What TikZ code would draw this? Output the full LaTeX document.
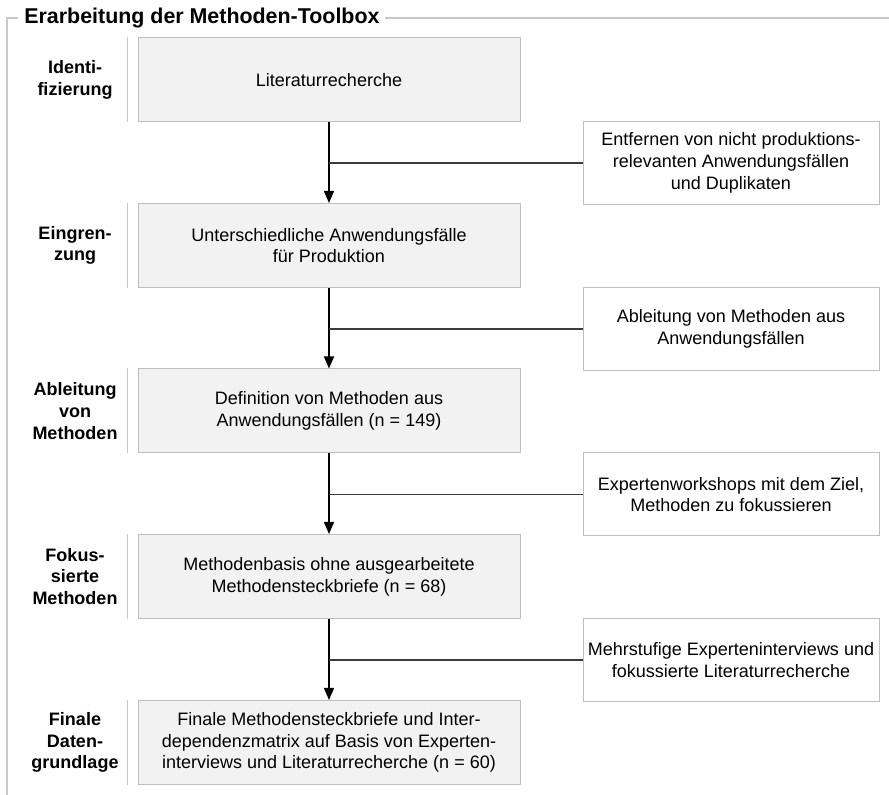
\documentclass[tikz,border=0pt]{standalone}
\usepackage{fontspec}
\setmainfont{Liberation Sans}
\usetikzlibrary{arrows.meta,positioning}
\definecolor{boxfill}{RGB}{242,242,242}
\definecolor{boxline}{RGB}{190,190,190}
\definecolor{frameline}{RGB}{200,200,200}
\definecolor{feedline}{RGB}{60,60,60}
\begin{document}
\begin{tikzpicture}[x=0.5pt,y=-0.5pt,
    every node/.style={font=\fontsize{9}{10.85}\selectfont, align=center, inner sep=0pt},
    stepbox/.style={draw=boxline,fill=boxfill,line width=0.5pt,minimum width=191pt,minimum height=42pt},
    sidebox/.style={draw=boxline,fill=white,line width=0.5pt,minimum width=148pt,minimum height=41.5pt},
    phase/.style={font=\fontsize{9}{10.85}\selectfont\bfseries},
    flow/.style={-{Triangle[length=6pt,width=5pt]},line width=0.75pt},
    feed/.style={draw=feedline,line width=0.6pt}]
    \useasboundingbox (0,0) rectangle (889,795);
    % frame with title
    \draw[frameline,line width=1pt] (7,795) -- (7,18) -- (889,18);
    \node[fill=white,inner xsep=3pt,anchor=west,font=\fontsize{10.7}{12}\selectfont\bfseries] (title) at (18,18) {Erarbeitung der Methoden-Toolbox};
    % main steps
    \node[stepbox] (s1) at (329,80) {Literaturrecherche};
    \node[stepbox] (s2) at (329,245.5) {Unterschiedliche Anwendungsfälle\\für Produktion};
    \node[stepbox] (s3) at (329,411) {Definition von Methoden aus\\Anwendungsfällen (n = 149)};
    \node[stepbox] (s4) at (329,576.5) {Methodenbasis ohne ausgearbeitete\\Methodensteckbriefe (n = 68)};
    \node[stepbox] (s5) at (329,742.5) {Finale Methodensteckbriefe und Inter-\\dependenzmatrix auf Basis von Experten-\\interviews und Literaturrecherche (n = 60)};
    % phase labels
    \node[phase] (p1) at (75,80) {Identi-\\fizierung};
    \node[phase] (p2) at (75,245.5) {Eingren-\\zung};
    \node[phase] (p3) at (75,411) {Ableitung\\von\\Methoden};
    \node[phase] (p4) at (75,576.5) {Fokus-\\sierte\\Methoden};
    \node[phase] (p5) at (75,742.5) {Finale\\Daten-\\grundlage};
    \foreach \i in {1,...,5}
        \draw[frameline,line width=0.6pt] ([xshift=-5pt]s\i.north west) -- ([xshift=-5pt]s\i.south west);
    % side steps
    \node[sidebox] (f1) at (731,163) {Entfernen von nicht produktions-\\relevanten Anwendungsfällen\\und Duplikaten};
    \node[sidebox] (f2) at (731,329) {Ableitung von Methoden aus\\Anwendungsfällen};
    \node[sidebox] (f3) at (731,494.5) {Expertenworkshops mit dem Ziel,\\Methoden zu fokussieren};
    \node[sidebox] (f4) at (731,660) {Mehrstufige Experteninterviews und\\fokussierte Literaturrecherche};
    \foreach \i/\j in {1/2,2/3,3/4,4/5}{
        \draw[flow] (s\i) -- (s\j);
        \draw[feed] (f\i.west) -- (s\i.south |- f\i.west);
    }
\end{tikzpicture}
\end{document}
